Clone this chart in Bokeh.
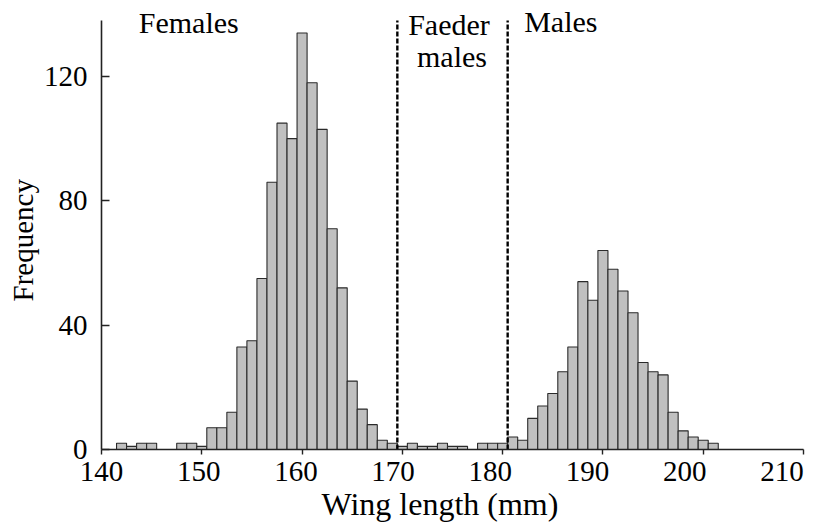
from bokeh.plotting import figure
from bokeh.models import Range1d, FixedTicker, ColumnDataSource, LinearAxis, Title
from bokeh.core.properties import value
from bokeh.embed import file_html
from bokeh.resources import INLINE

# ---- data ----
wing_mm = list(range(142, 202))
freq = [2, 1, 2, 2, 0, 0, 2, 2, 1, 7,
        7, 12, 33, 35, 55, 86, 105, 100, 134, 118,
        103, 71, 52, 22, 13, 8, 3, 2, 1, 2,
        1, 1, 2, 1, 1, 0, 2, 2, 2, 4,
        3, 10, 14, 18, 25, 33, 54, 48, 64, 58,
        51, 44, 28, 25, 24, 12, 6, 4, 3, 2]
divider_mm = [169.5, 180.5]
group_labels = ["Females", "Faeder", "males", "Males"]
x_ticks = [140, 150, 160, 170, 180, 190, 200, 210]
y_ticks = [0, 40, 80, 120]
x_title = "Wing length (mm)"
y_title = "Frequency"

# annotation anchors (data units)
label_x = [148.7, 174.65, 174.95, 185.8]
label_y = [137.4, 136.7, 126.4, 137.6]

FONT = "'Liberation Serif', 'Times New Roman', Times, serif"
FS = "29px"

p = figure(width=816, height=527, output_backend="svg", toolbar_location=None,
           x_range=Range1d(140, 210), y_range=Range1d(0, 142.2),
           min_border_left=101, min_border_right=13, min_border_top=7,
           min_border_bottom=78)
p.outline_line_color = None
p.xgrid.visible = False
p.ygrid.visible = False
p.background_fill_color = "white"

# label scale of the printed axis (its numbers sit slightly left of the ticks)
p.extra_x_ranges = {"lab": Range1d(140, 140 + 702 / 9.72)}

bars = [(x, f) for x, f in zip(wing_mm, freq) if f > 0]
src = ColumnDataSource(dict(x=[b[0] for b in bars], top=[b[1] for b in bars]))
p.vbar(x="x", top="top", bottom=0, width=1, source=src,
       fill_color="#c0c0c0", line_color="#2a2a2a", line_width=1.1)

p.segment(x0=divider_mm, x1=divider_mm, y0=[0] * len(divider_mm),
          y1=[138] * len(divider_mm), line_color="black", line_width=2.4,
          line_dash="5 2")

p.text(x=label_x, y=label_y, text=group_labels, text_font=value(FONT),
       text_font_size="30px", text_align="center", text_baseline="alphabetic",
       text_color="black")

# main x axis: line and tick marks
xa = p.xaxis[0]
xa.ticker = FixedTicker(ticks=x_ticks)
xa.major_tick_out = 5
xa.major_tick_in = 0
xa.minor_tick_line_color = None
xa.major_label_standoff = 0
xa.major_label_text_font_size = "1px"
xa.major_label_text_alpha = 0
xa.major_label_overrides = {t: "" for t in x_ticks}
xa.axis_line_color = "#222222"
xa.axis_line_width = 1.6
xa.major_tick_line_color = "#222222"
xa.major_tick_line_width = 1.4

# printed numbers of the x axis
xl = LinearAxis(x_range_name="lab", ticker=FixedTicker(ticks=x_ticks),
                bounds=(140, 210))
xl.axis_line_color = None
xl.major_tick_line_color = None
xl.minor_tick_line_color = None
xl.major_tick_in = 0
xl.major_tick_out = 0
xl.major_label_standoff = 7
xl.major_label_text_font = FONT
xl.major_label_text_font_size = FS
xl.major_label_text_color = "black"
p.add_layout(xl, "below")

p.add_layout(Title(text=x_title, align="left", offset=220, standoff=0,
                   text_font=FONT, text_font_size="32px",
                   text_font_style="normal", text_color="black"), "below")

ya = p.yaxis[0]
ya.ticker = FixedTicker(ticks=y_ticks)
ya.bounds = (0, 138)
ya.major_tick_in = 8
ya.major_tick_out = 0
ya.minor_tick_line_color = None
ya.major_label_standoff = 14
ya.axis_line_color = "#222222"
ya.axis_line_width = 1.6
ya.major_tick_line_color = "#222222"
ya.major_tick_line_width = 1.4
ya.major_label_text_font = FONT
ya.major_label_text_font_size = FS
ya.major_label_text_color = "black"

p.add_layout(Title(text=y_title, align="left", offset=148, standoff=4,
                   text_font=FONT, text_font_size=FS,
                   text_font_style="normal", text_color="black"), "left")

open("out.html", "w").write(file_html(p, INLINE))
